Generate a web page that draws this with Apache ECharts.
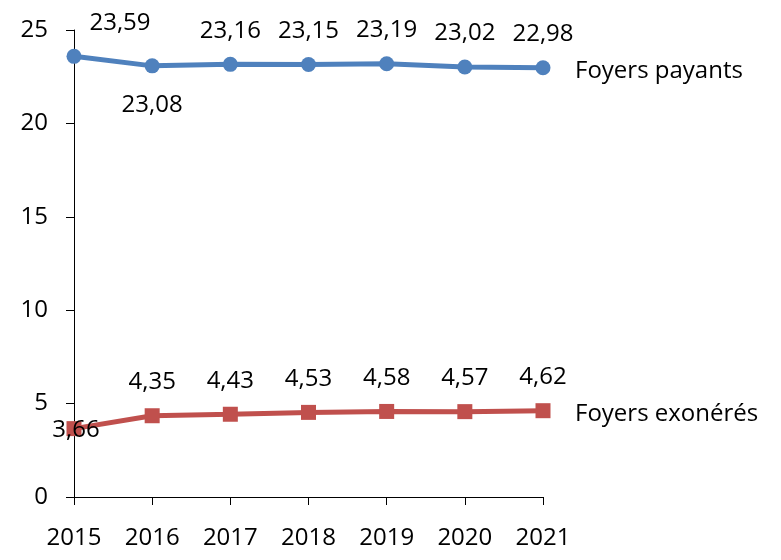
<!DOCTYPE html>
<html>
<head>
<meta charset="utf-8">
<script src="https://cdn.jsdelivr.net/npm/echarts@6/dist/echarts.min.js"></script>
<style>
  html, body { margin: 0; padding: 0; background: #fff; }
  #chart { width: 781px; height: 560px; }
</style>
</head>
<body>
<div id="chart"></div>
<script>
// données
var years = ['2015', '2016', '2017', '2018', '2019', '2020', '2021'];
var payants = [23.59, 23.08, 23.16, 23.15, 23.19, 23.02, 22.98];
var exoneres = [3.66, 4.35, 4.43, 4.53, 4.58, 4.57, 4.62];
var yTicks = [0, 5, 10, 15, 20, 25];

var FONT = '"Open Sans", sans-serif';
var FS = 24;

function fmt(p) {
  return Number(p.value).toFixed(2).replace('.', ',');
}

// étiquettes particulières (2015 / 2016)
var payantsData = payants.map(function (v, i) {
  if (i === 0) return { value: v, label: { position: 'top', offset: [46, 0] } };
  if (i === 1) return { value: v, label: { position: 'bottom', distance: 20 } };
  return v;
});
var exoneresData = exoneres.map(function (v, i) {
  if (i === 0) return { value: v, label: { position: 'inside', offset: [2, 2] } };
  return v;
});

var myChart = echarts.init(document.getElementById('chart'));
myChart.setOption({
  animation: false,
  grid: { left: 74, right: 238, top: 30, bottom: 63 },
  xAxis: {
    type: 'category',
    data: years,
    boundaryGap: false,
    axisLine: { lineStyle: { color: '#000', width: 1 } },
    axisTick: { length: 8, lineStyle: { color: '#000' } },
    axisLabel: { color: '#000', fontSize: FS, fontFamily: FONT, margin: 29 }
  },
  yAxis: {
    type: 'value',
    min: yTicks[0],
    max: yTicks[yTicks.length - 1],
    interval: 5,
    splitLine: { show: false },
    axisLine: { show: true, lineStyle: { color: '#000', width: 1 } },
    axisTick: { show: true, length: 8, lineStyle: { color: '#000' } },
    axisLabel: { color: '#000', fontSize: FS, fontFamily: FONT, margin: 26 }
  },
  series: [
    {
      name: 'Foyers payants',
      type: 'line',
      data: payantsData,
      symbol: 'circle',
      symbolSize: 15,
      lineStyle: { color: '#4F81BD', width: 5 },
      itemStyle: { color: '#4F81BD' },
      label: {
        show: true, position: 'top', distance: 14, formatter: fmt,
        color: '#000', fontSize: FS, fontFamily: FONT
      },
      endLabel: {
        show: true, formatter: '{a}', distance: 32, offset: [0, 3],
        color: '#000', fontSize: FS, fontFamily: FONT
      }
    },
    {
      name: 'Foyers exonérés',
      type: 'line',
      data: exoneresData,
      symbol: 'rect',
      symbolSize: 15,
      lineStyle: { color: '#C0504D', width: 5 },
      itemStyle: { color: '#C0504D' },
      label: {
        show: true, position: 'top', distance: 14, formatter: fmt,
        color: '#000', fontSize: FS, fontFamily: FONT
      },
      endLabel: {
        show: true, formatter: '{a}', distance: 32, offset: [0, 3],
        color: '#000', fontSize: FS, fontFamily: FONT
      }
    }
  ]
});
</script>
</body>
</html>
